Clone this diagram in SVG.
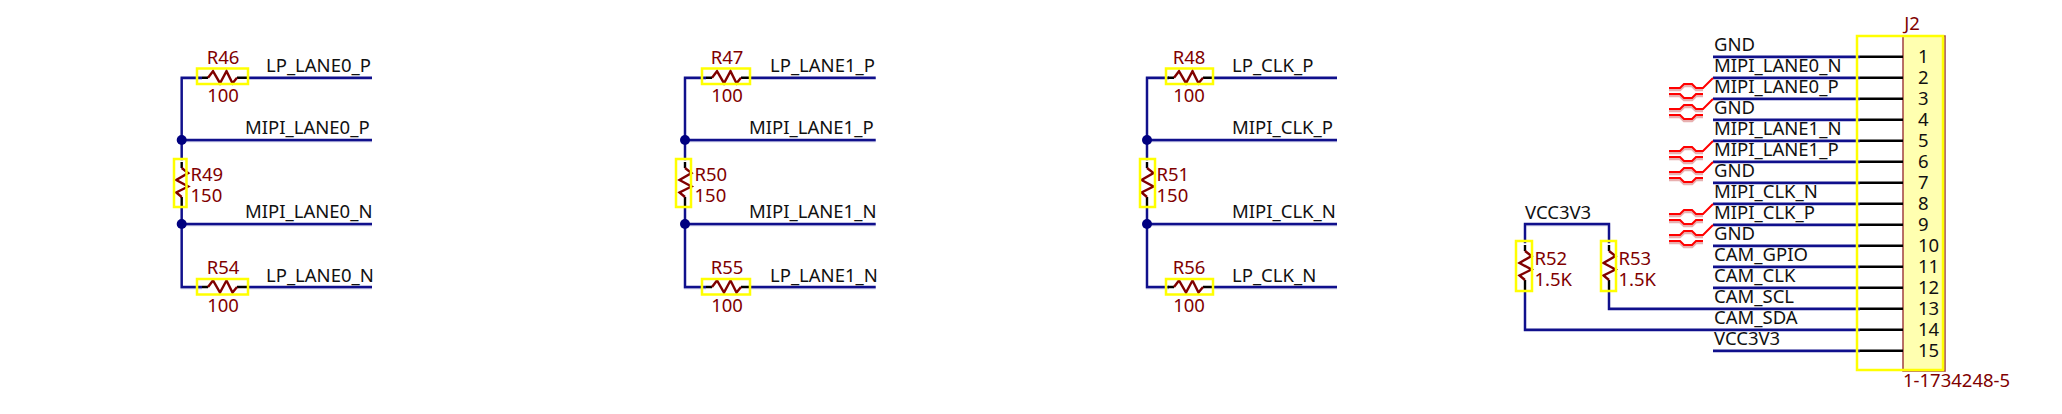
<svg xmlns="http://www.w3.org/2000/svg" width="2062" height="414" viewBox="0 0 2062 414">
<style>
text{font-family:"Noto Sans","Open Sans",sans-serif;font-size:18.500px;fill:#111}
.d{fill:#800000}
.m{text-anchor:middle}
.w{fill:none;stroke:#10108c;stroke-width:2.400}
.s{fill:none;stroke:#c4c4e4;stroke-width:2.400}
.l{fill:none;stroke:#000;stroke-width:2.400}
.z{fill:none;stroke:#800000;stroke-width:2.400}
.b{fill:none;stroke:#ffff00;stroke-width:2.500}
.j{fill:#000080}
.r{fill:none;stroke:#ff0000;stroke-width:2}
.p{fill:none;stroke:#e8b0b0;stroke-width:2.500}
</style>
<defs>
<g id="res"><path class="l" d="M-21,0H-15M14,0H24"/><path class="z" d="M-15,0L-10,-6.500L-3,5.500L3.500,-6.500L9.500,5.500L14,0"/></g>
<path id="wires" d="M202,77.700H181.700V160M181.700,206V287H202M247,77.700H372M181.700,140H372M181.700,224H372M247,287H372M706,77.700H685V160M685,206V287H706M750,77.700H875.700M685,140H875.700M685,224H875.700M750,287H875.700M1169,77.700H1147V160M1147,206V287H1169M1213,77.700H1337M1147,140H1337M1147,224H1337M1213,287H1337M1525,243V224H1609V243M1609,290V308.700H1860M1525,290V329.700H1860M1713,56.700H1860M1713,77.700H1860M1713,98.700H1860M1713,119.700H1860M1713,140.700H1860M1713,161.700H1860M1713,182.700H1860M1713,203.700H1860M1713,224.700H1860M1713,245.700H1860M1713,266.700H1860M1713,287.700H1860M1713,350.700H1860"/>
<g id="dp"><path class="p" d="M1669,90H1680L1684,86H1692L1696,90H1703M1669,96H1680L1684,100H1692L1696,96H1703"/><path class="r" d="M1669,88H1680L1684,84H1692L1696,88H1703L1713,78M1669,94H1680L1684,98H1692L1696,94H1703"/></g>
</defs>
<g id="connectors">
<use href="#wires" class="s" transform="translate(0,1)"/>
<use href="#wires" class="w"/>
</g>
<g id="junctions"><circle class="j" cx="181.700" cy="140" r="5"/><circle class="j" cx="181.700" cy="224" r="5"/><circle class="j" cx="685" cy="140" r="5"/><circle class="j" cx="685" cy="224" r="5"/><circle class="j" cx="1147" cy="140" r="5"/><circle class="j" cx="1147" cy="224" r="5"/></g>
<g id="R46"><use href="#res" transform="translate(223,77.700)"/><rect class="b" x="197" y="68.500" width="51" height="15.500"/><text class="d m" x="223" y="64">R46</text><text class="d m" x="223" y="102">100</text></g>
<g id="R54"><use href="#res" transform="translate(223,287)"/><rect class="b" x="197" y="279" width="51" height="15.500"/><text class="d m" x="223" y="274">R54</text><text class="d m" x="223" y="312">100</text></g>
<g id="R49"><use href="#res" transform="translate(181.700,183) rotate(90)"/><rect class="b" x="174" y="159" width="12.500" height="48"/><text class="d" x="190.500" y="181">R49</text><text class="d" x="190.500" y="202">150</text></g>
<g id="R47"><use href="#res" transform="translate(727,77.700)"/><rect class="b" x="702" y="68.500" width="48" height="15.500"/><text class="d m" x="727" y="64">R47</text><text class="d m" x="727" y="102">100</text></g>
<g id="R55"><use href="#res" transform="translate(727,287)"/><rect class="b" x="702" y="279" width="48" height="15.500"/><text class="d m" x="727" y="274">R55</text><text class="d m" x="727" y="312">100</text></g>
<g id="R50"><use href="#res" transform="translate(685,183) rotate(90)"/><rect class="b" x="676" y="159" width="15" height="48"/><text class="d" x="694.500" y="181">R50</text><text class="d" x="694.500" y="202">150</text></g>
<g id="R48"><use href="#res" transform="translate(1189,77.700)"/><rect class="b" x="1166" y="68.500" width="47" height="15.500"/><text class="d m" x="1189" y="64">R48</text><text class="d m" x="1189" y="102">100</text></g>
<g id="R56"><use href="#res" transform="translate(1189,287)"/><rect class="b" x="1166" y="279" width="47" height="15.500"/><text class="d m" x="1189" y="274">R56</text><text class="d m" x="1189" y="312">100</text></g>
<g id="R51"><use href="#res" transform="translate(1147,183) rotate(90)"/><rect class="b" x="1140" y="159" width="15" height="48"/><text class="d" x="1156.500" y="181">R51</text><text class="d" x="1156.500" y="202">150</text></g>
<g id="R52"><use href="#res" transform="translate(1525,266) rotate(90)"/><rect class="b" x="1516" y="241" width="16" height="50"/><text class="d" x="1534.500" y="265">R52</text><text class="d" x="1534.500" y="286">1.5K</text></g>
<g id="R53"><use href="#res" transform="translate(1609,266) rotate(90)"/><rect class="b" x="1601" y="241" width="15" height="50"/><text class="d" x="1618.500" y="265">R53</text><text class="d" x="1618.500" y="286">1.5K</text></g>
<g id="net-labels">
<text x="266" y="72">LP_LANE0_P</text><text x="245" y="134">MIPI_LANE0_P</text><text x="245" y="218">MIPI_LANE0_N</text><text x="266" y="282">LP_LANE0_N</text>
<text x="770" y="72">LP_LANE1_P</text><text x="749" y="134">MIPI_LANE1_P</text><text x="749" y="218">MIPI_LANE1_N</text><text x="770" y="282">LP_LANE1_N</text>
<text x="1232" y="72">LP_CLK_P</text><text x="1232" y="134">MIPI_CLK_P</text><text x="1232" y="218">MIPI_CLK_N</text><text x="1232" y="282">LP_CLK_N</text>
<text x="1525" y="219">VCC3V3</text>
<text x="1714" y="51">GND</text><text x="1714" y="72">MIPI_LANE0_N</text><text x="1714" y="93">MIPI_LANE0_P</text><text x="1714" y="114">GND</text><text x="1714" y="135">MIPI_LANE1_N</text><text x="1714" y="156">MIPI_LANE1_P</text><text x="1714" y="177">GND</text><text x="1714" y="198">MIPI_CLK_N</text><text x="1714" y="219">MIPI_CLK_P</text><text x="1714" y="240">GND</text><text x="1714" y="261">CAM_GPIO</text><text x="1714" y="282">CAM_CLK</text><text x="1714" y="303">CAM_SCL</text><text x="1714" y="324">CAM_SDA</text><text x="1714" y="345">VCC3V3</text>
</g>
<g id="diff-pairs"><use href="#dp"/><use href="#dp" y="21"/><use href="#dp" y="63"/><use href="#dp" y="84"/><use href="#dp" y="126"/><use href="#dp" y="147"/></g>
<g id="J2">
<rect x="1903" y="36" width="42" height="335" fill="#ffffb0" stroke="#a04040" stroke-width="1.500"/>
<path class="l" d="M1860,56.700H1903M1860,77.700H1903M1860,98.700H1903M1860,119.700H1903M1860,140.700H1903M1860,161.700H1903M1860,182.700H1903M1860,203.700H1903M1860,224.700H1903M1860,245.700H1903M1860,266.700H1903M1860,287.700H1903M1860,308.700H1903M1860,329.700H1903M1860,350.700H1903"/>
<rect class="b" x="1857" y="36" width="86" height="334"/>
<text class="d m" x="1912" y="30">J2</text><text class="d" x="1903" y="387">1-1734248-5</text>
<text x="1918" y="62.500">1</text><text x="1918" y="83.500">2</text><text x="1918" y="104.500">3</text><text x="1918" y="125.500">4</text><text x="1918" y="146.500">5</text><text x="1918" y="167.500">6</text><text x="1918" y="188.500">7</text><text x="1918" y="209.500">8</text><text x="1918" y="230.500">9</text><text x="1918" y="251.500">10</text><text x="1918" y="272.500">11</text><text x="1918" y="293.500">12</text><text x="1918" y="314.500">13</text><text x="1918" y="335.500">14</text><text x="1918" y="356.500">15</text>
</g>
</svg>
